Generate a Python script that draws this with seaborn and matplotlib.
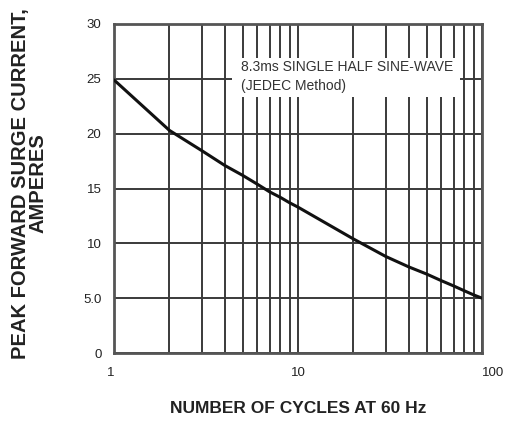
import matplotlib
matplotlib.use("Agg")
import matplotlib.pyplot as plt
import seaborn as sns
import pandas as pd
from matplotlib.patches import Rectangle

cycles = [1, 2, 3, 4, 5, 6, 7, 8, 9, 10, 20, 30, 40, 50, 60, 70, 80, 90, 100]
current = [24.9, 20.3, 18.45, 17.1, 16.2, 15.4, 14.7, 14.2, 13.7, 13.3,
           10.4, 8.8, 7.85, 7.2, 6.6, 6.12, 5.68, 5.3, 5.0]
y_ticks = [0, 5, 10, 15, 20, 25, 30]
y_tick_labels = ["0", "5.0", "10", "15", "20", "25", "30"]
x_ticks = [1, 10, 100]
x_tick_labels = ["1", "10", "100"]

sns.set_style("white")
plt.rcParams['font.family'] = ['Liberation Sans', 'DejaVu Sans']

df = pd.DataFrame({"cycles": cycles, "current": current})

fig = plt.figure(figsize=(5.09, 4.21), dpi=100)
ax = fig.add_axes([0.224, 0.1615, 0.723, 0.7815])

sns.lineplot(data=df, x="cycles", y="current", ax=ax, color="#111111",
             linewidth=2.2, zorder=4)
ax.set_xscale("log")
ax.set_xlim(1, 100)
ax.set_ylim(0, 30)

ax.set_yticks(y_ticks)
ax.set_yticklabels(y_tick_labels)
ax.set_xticks(x_ticks)
ax.set_xticklabels(x_tick_labels)
ax.tick_params(axis="both", which="both", length=0, labelsize=9.5, colors="#222222")
ax.tick_params(axis="y", pad=9)
ax.tick_params(axis="x", pad=10)
lbls = ax.get_xticklabels()
lbls[0].set_ha("right")
lbls[-1].set_ha("left")

ax.set_axisbelow(True)
ax.grid(True, which="both", axis="x", color="#3a3a3a", linewidth=1.4)
ax.grid(True, which="major", axis="y", color="#3a3a3a", linewidth=1.4)
for s in ax.spines.values():
    s.set_visible(True)
    s.set_color("#555555")
    s.set_linewidth(2.0)

ax.add_patch(Rectangle((0.32, 0.778), 0.62, 0.119, transform=ax.transAxes,
                       facecolor="white", edgecolor="none", zorder=2))
ax.text(0.345, 0.89, "8.3ms SINGLE HALF SINE-WAVE\n(JEDEC Method)",
        transform=ax.transAxes, fontsize=10, va="top", ha="left",
        color="#333333", linespacing=1.45, zorder=3)

ax.set_xlabel("NUMBER OF CYCLES AT 60 Hz", fontsize=12.5, fontweight="bold",
              color="#222222")
ax.xaxis.set_label_coords(0.5, -0.147)
ax.set_ylabel("PEAK FORWARD SURGE CURRENT,\nAMPERES", fontsize=14.5,
              fontweight="bold", color="#222222", linespacing=0.92)
ax.yaxis.set_label_coords(-0.18, 0.515)

fig.savefig("out.png", dpi=100)
